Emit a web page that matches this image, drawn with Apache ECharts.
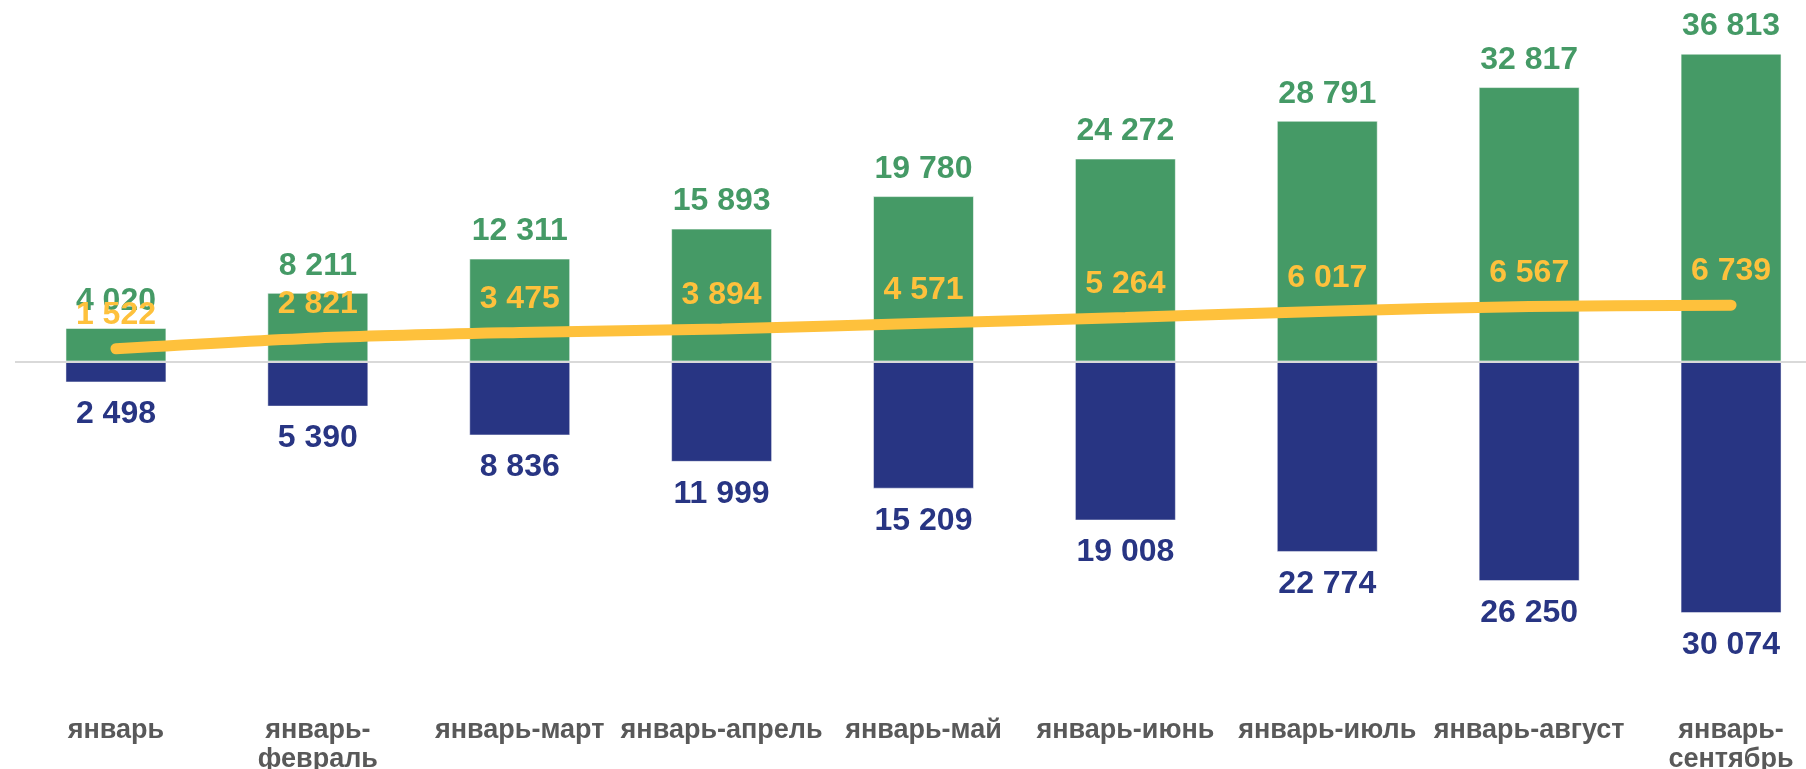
<!DOCTYPE html>
<html>
<head>
<meta charset="utf-8">
<script src="https://cdn.jsdelivr.net/npm/echarts@6/dist/echarts.min.js"></script>
<style>
  html, body { margin: 0; padding: 0; background: #fff; }
  #chart { width: 1806px; height: 769px; }
</style>
</head>
<body>
<div id="chart"></div>
<script>
// категории (нарастающим итогом)
const categories = ['январь', 'январь-февраль', 'январь-март', 'январь-апрель', 'январь-май',
  'январь-июнь', 'январь-июль', 'январь-август', 'январь-сентябрь']
// зелёные столбцы (вверх)
const greenValues = [4020, 8211, 12311, 15893, 19780, 24272, 28791, 32817, 36813]
// синие столбцы (вниз, храним модуль)
const blueValues = [2498, 5390, 8836, 11999, 15209, 19008, 22774, 26250, 30074]
// жёлтая линия
const lineValues = [1522, 2821, 3475, 3894, 4571, 5264, 6017, 6567, 6739]

const GREEN = '#459A66'
const BLUE = '#283583'
const YELLOW = '#FEC13C'
const FONT = '"Liberation Sans", Arial, sans-serif'

function fmt(v) { // 36813 -> '36 813'
  return String(Math.abs(v)).replace(/\B(?=(\d{3})+(?!\d))/g, ' ')
}

const chart = echarts.init(document.getElementById('chart'))
chart.setOption({
  animation: false,
  // последняя категория уходит за правый край, как в оригинале
  grid: { left: 15, top: 27, width: 1817, height: 669, outerBoundsMode: 'none', containLabel: false },
  xAxis: {
    type: 'category',
    data: categories,
    axisLine: { show: false, onZero: false },
    axisTick: { show: false },
    axisLabel: {
      margin: 20,
      interval: 0,
      color: '#595959',
      fontFamily: FONT,
      fontWeight: 'bold',
      fontSize: 27,
      lineHeight: 29,
      formatter: function(v) {
        return v.length > 13 ? v.replace('-', '-\n') : v // длинные — в две строки
      }
    }
  },
  yAxis: {
    type: 'value',
    min: -40000,
    max: 40000,
    show: false,
    splitLine: { show: false }
  },
  series: [
    {
      name: 'green',
      type: 'bar',
      data: greenValues,
      barWidth: '50%',
      barGap: '-100%',
      itemStyle: { color: GREEN, borderColor: 'rgba(255,255,255,0.55)', borderWidth: 1 },
      label: {
        show: true,
        position: 'top',
        distance: 11,
        color: GREEN,
        fontFamily: FONT,
        fontWeight: 'bold',
        fontSize: 32,
        formatter: p => fmt(p.value)
      },
      markLine: {
        silent: true,
        symbol: 'none',
        label: { show: false },
        lineStyle: { color: '#D9D9D9', width: 2, type: 'solid' },
        data: [{ yAxis: 0 }]
      }
    },
    {
      name: 'blue',
      type: 'bar',
      data: blueValues.map(v => -v),
      barWidth: '50%',
      itemStyle: { color: BLUE, borderColor: 'rgba(255,255,255,0.45)', borderWidth: 1 },
      label: {
        show: true,
        position: 'bottom',
        distance: 16,
        color: BLUE,
        fontFamily: FONT,
        fontWeight: 'bold',
        fontSize: 32,
        formatter: p => fmt(p.value)
      }
    },
    {
      name: 'yellow',
      type: 'line',
      data: lineValues,
      smooth: 0.3,
      symbol: 'circle',
      symbolSize: 1,
      showSymbol: true,
      itemStyle: { color: 'transparent' },
      z: 5,
      lineStyle: { color: YELLOW, width: 11, cap: 'round' },
      label: {
        show: true,
        position: 'top',
        distance: 17,
        color: YELLOW,
        fontFamily: FONT,
        fontWeight: 'bold',
        fontSize: 32,
        formatter: p => fmt(p.value)
      }
    }
  ]
})
</script>
</body>
</html>
